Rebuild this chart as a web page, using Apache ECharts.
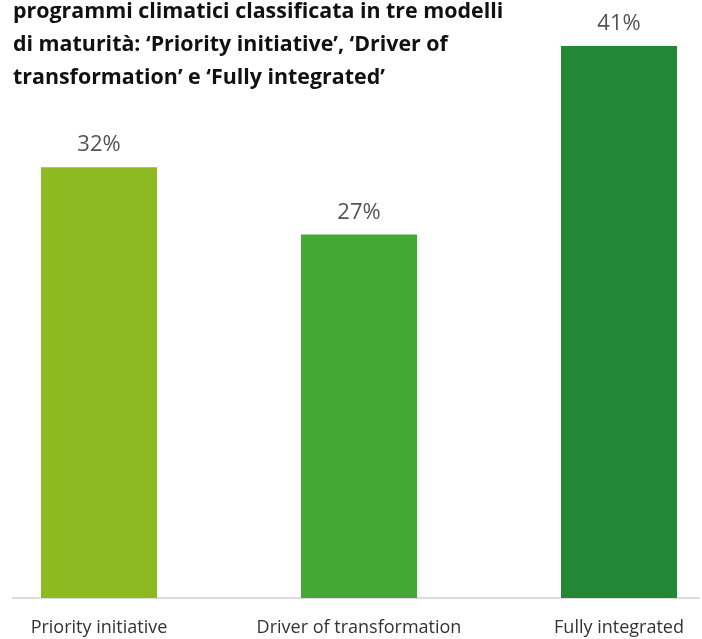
<!DOCTYPE html>
<html>
<head>
<meta charset="utf-8">
<script src="https://cdn.jsdelivr.net/npm/echarts@6/dist/echarts.min.js"></script>
<style>
html,body{margin:0;padding:0;background:#fff;}
#chart{width:702px;height:639px;}
</style>
</head>
<body>
<div id="chart"></div>
<script>
const titleLines = [
  "programmi climatici classificata in tre modelli",
  "di maturità: ‘Priority initiative’, ‘Driver of",
  "transformation’ e ‘Fully integrated’"
];
const categories = ["Priority initiative", "Driver of transformation", "Fully integrated"];
const values = [32, 27, 41];
const barColors = ["#8DBA21", "#44A736", "#228837"];

const chart = echarts.init(document.getElementById('chart'));
chart.setOption({
  animation: false,
  title: {
    text: titleLines.join('\n'),
    left: 13,
    top: -5,
    padding: 0,
    textStyle: {
      fontFamily: 'Open Sans',
      fontWeight: 'bold',
      fontSize: 21.4,
      lineHeight: 33,
      color: '#111'
    }
  },
  grid: [
    { left: -31, width: 780, top: 46, bottom: 41, outerBoundsMode: 'none', containLabel: false },
    { left: 13, right: 3, top: 46, bottom: 41, outerBoundsMode: 'none', containLabel: false }
  ],
  xAxis: [
    {
      type: 'category',
      gridIndex: 0,
      data: categories,
      axisLine: { show: false },
      axisTick: { show: false },
      axisLabel: {
        interval: 0,
        margin: 21,
        fontFamily: 'Open Sans',
        fontSize: 18,
        color: '#333'
      }
    },
    {
      type: 'value',
      gridIndex: 1,
      min: 0, max: 1,
      axisLine: { show: true, onZero: false, lineStyle: { color: '#dcdcdc', width: 2 } },
      axisTick: { show: false },
      axisLabel: { show: false },
      splitLine: { show: false }
    }
  ],
  yAxis: [
    { type: 'value', gridIndex: 0, min: 0, max: 41, show: false, splitLine: { show: false } },
    { type: 'value', gridIndex: 1, min: 0, max: 1, show: false, splitLine: { show: false } }
  ],
  series: [{
    type: 'bar',
    xAxisIndex: 0,
    yAxisIndex: 0,
    barWidth: 116,
    z: 3,
    data: values.map((v, i) => ({ value: v, itemStyle: { color: barColors[i] } })),
    label: {
      show: true,
      position: 'top',
      distance: 11,
      formatter: '{c}%',
      fontFamily: 'Open Sans',
      fontSize: 22,
      color: '#555'
    }
  }]
});
</script>
</body>
</html>
